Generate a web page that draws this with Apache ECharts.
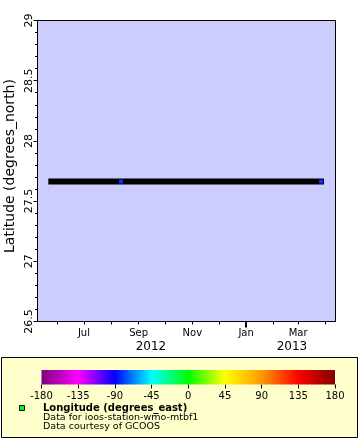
<!DOCTYPE html>
<html><head><meta charset="utf-8">
<script src="https://cdn.jsdelivr.net/npm/echarts@6/dist/echarts.min.js"></script>
<style>html,body{margin:0;padding:0;background:#fff}#c{width:360px;height:440px}</style>
</head><body><div id="c"></div>
<script>
// ---- data ----
const timeMin = '2012-05-09T07:00:00Z';
const timeMax = '2013-04-12T10:00:00Z';
const latMin = 26.5, latMax = 29, latStep = 0.5;
const trackTimes = ['2012-05-25T00:00:00Z', '2013-03-27T00:00:00Z'];
const trackLat = [27.662, 27.662];
const pointTimes = ['2012-08-12T00:00:00Z', '2013-03-27T00:00:00Z'];
const pointLat = [27.662, 27.662];
const monthTicks = ['2012-06-01','2012-07-01','2012-08-01','2012-09-01','2012-10-01','2012-11-01','2012-12-01','2013-01-01','2013-02-01','2013-03-01','2013-04-01'];
const monthLabels = ['2012-07-01','2012-09-01','2012-11-01','2013-01-01','2013-03-01'];
const monthNames = ['Jan','Feb','Mar','Apr','May','Jun','Jul','Aug','Sep','Oct','Nov','Dec'];
const yearTick = ['2013-01-01'];
const yearLabelPos = ['2012-09-15', '2013-02-22'];
const yearLabelText = ['2012', '2013'];
const cbMin = -180, cbMax = 180, cbStep = 45;
const cbColors = ['#800080','#ff00ff','#0000ff','#00ffff','#00ff00','#ffff00','#ff9900','#ff0000','#800000'];
const legendTitle = 'Longitude (degrees_east)';
const legendLines = ['Data for ioos-station-wmo-mtbf1', 'Data courtesy of GCOOS'];
const yName = 'Latitude (degrees_north)';

const ts = s => new Date(s.length === 10 ? s + 'T00:00:00Z' : s).getTime();
const FONT = 'DejaVu Sans';
const chart = echarts.init(document.getElementById('c'), null, {renderer: 'canvas'});

const stops = cbColors.map((c, i) => ({offset: i / (cbColors.length - 1), color: c}));
const yearTs = yearLabelPos.map(ts);

chart.setOption({
  backgroundColor: '#ffffff',
  animation: false,
  textStyle: {fontFamily: FONT},
  graphic: [
    {type: 'rect', z: -10, shape: {x: 1.5, y: 357.5, width: 356, height: 80},
     style: {fill: '#ffffcc', stroke: '#000', lineWidth: 1}},
    {type: 'rect', z: 10, shape: {x: 19.5, y: 405.5, width: 5, height: 5},
     style: {fill: '#00ff00', stroke: '#000', lineWidth: 1}},
    {type: 'text', z: 10, x: 43, y: 408.5, style: {text: legendTitle, font: 'bold 10px "DejaVu Sans"', fill: '#000', verticalAlign: 'middle'}},
    {type: 'text', z: 10, x: 43, y: 417.8, style: {text: legendLines[0], font: '9.5px "DejaVu Sans"', fill: '#000', verticalAlign: 'middle'}},
    {type: 'text', z: 10, x: 43, y: 427, style: {text: legendLines[1], font: '9.5px "DejaVu Sans"', fill: '#000', verticalAlign: 'middle'}},
    {type: 'text', z: 10, x: 10, y: 166, rotation: Math.PI / 2,
     style: {text: yName, font: '14px "DejaVu Sans"', fill: '#000', align: 'center', verticalAlign: 'middle'}}
  ],
  grid: [
    {left: 37.5, top: 20.5, width: 298, height: 301, show: true, backgroundColor: '#ccccff', borderColor: '#000', borderWidth: 1},
    {left: 41.5, top: 370, width: 293.5, height: 14.5, show: false}
  ],
  xAxis: [
    {type: 'value', gridIndex: 0, min: ts(timeMin), max: ts(timeMax),
     axisLine: {show: true, lineStyle: {color: '#000', width: 1}},
     axisTick: {show: true, length: 3, lineStyle: {color: '#000'}, customValues: monthTicks.map(ts)},
     axisLabel: {show: true, margin: 7, fontSize: 10, color: '#000', fontFamily: FONT,
       customValues: monthLabels.map(ts),
       formatter: v => monthNames[new Date(v).getUTCMonth()]},
     splitLine: {show: false}},
    {type: 'value', gridIndex: 0, position: 'bottom', min: ts(timeMin), max: ts(timeMax),
     axisLine: {show: false},
     axisTick: {show: true, length: 6, lineStyle: {color: '#000', width: 2}, customValues: yearTick.map(ts)},
     axisLabel: {show: true, margin: 19, fontSize: 12, color: '#000', fontFamily: FONT,
       customValues: yearTs,
       formatter: v => { const i = yearTs.indexOf(v); return i >= 0 ? yearLabelText[i] : String(new Date(v).getUTCFullYear()); }},
     splitLine: {show: false}},
    {type: 'value', gridIndex: 1, min: cbMin, max: cbMax, interval: cbStep,
     axisLine: {show: false},
     axisTick: {show: true, length: 4, lineStyle: {color: '#000'}},
     axisLabel: {show: true, margin: 7, fontSize: 10, color: '#000', fontFamily: FONT},
     splitLine: {show: false}}
  ],
  yAxis: [
    {type: 'value', gridIndex: 0, min: latMin, max: latMax, interval: latStep,
     axisLine: {show: true, lineStyle: {color: '#000'}},
     axisTick: {show: true, length: 4, lineStyle: {color: '#000'}},
     minorTick: {show: true, splitNumber: 5, length: 2.5, lineStyle: {color: '#000'}},
     axisLabel: {show: true, rotate: 90, margin: 3, fontSize: 11, color: '#000', fontFamily: FONT},
     splitLine: {show: false}, minorSplitLine: {show: false}},
    {type: 'value', gridIndex: 1, min: 0, max: 1, show: false}
  ],
  series: [
    {type: 'line', xAxisIndex: 0, yAxisIndex: 0, symbol: 'none',
     data: trackTimes.map((t, i) => [ts(t), trackLat[i]]),
     lineStyle: {color: '#000', width: 6, cap: 'square'}, z: 3},
    {type: 'scatter', xAxisIndex: 0, yAxisIndex: 0, symbol: 'rect', symbolSize: 4,
     data: pointTimes.map((t, i) => [ts(t), pointLat[i]]),
     itemStyle: {color: '#0a2eff', opacity: 1}, z: 4},
    {type: 'custom', xAxisIndex: 2, yAxisIndex: 1, data: [[cbMin, 0]],
     renderItem: (params, api) => {
       const p0 = api.coord([cbMin, 1]);
       const p1 = api.coord([cbMax, 0]);
       return {type: 'rect', shape: {x: p0[0], y: p0[1], width: p1[0] - p0[0], height: p1[1] - p0[1]},
         style: {fill: new echarts.graphic.LinearGradient(0, 0, 1, 0, stops)}};
     }}
  ]
});
</script></body></html>
